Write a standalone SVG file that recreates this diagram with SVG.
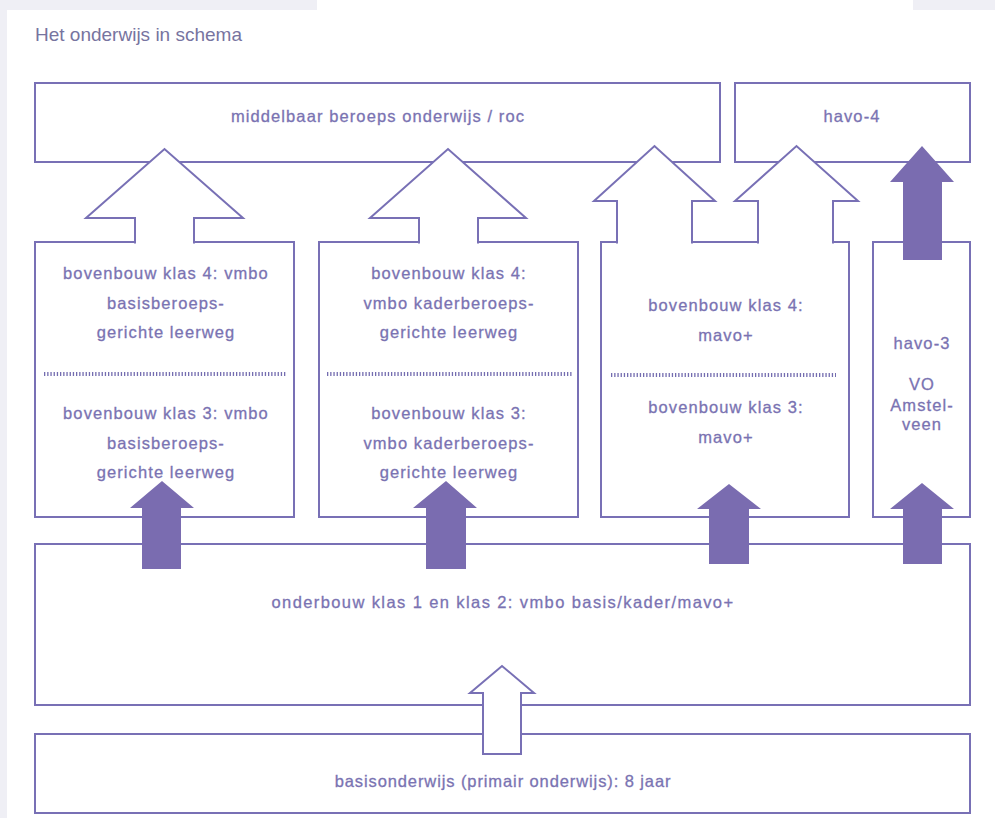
<svg xmlns="http://www.w3.org/2000/svg" width="995" height="818" viewBox="0 0 995 818">
<style>
.bg{fill:#efeff5}
.box{fill:#ffffff;stroke:#7870b5;stroke-width:2}
.oarrow{fill:#ffffff;stroke:#7870b5;stroke-width:2;stroke-linejoin:miter}
.farrow{fill:#7a6cb0;stroke:none}
.t{font-family:"Liberation Sans",Arial,sans-serif;font-size:16.5px;fill:#7a73b2;stroke:#7a73b2;stroke-width:0.3px;text-anchor:middle;letter-spacing:1.1px}
.title{font-family:"Liberation Sans",Arial,sans-serif;font-size:19px;fill:#77749f}
.dots{stroke:#746db0;stroke-width:4;stroke-dasharray:1.3 1.9}
</style>
<rect x="0" y="0" width="995" height="818" fill="#ffffff"/>
<rect class="bg" x="0" y="0" width="7" height="818"/>
<rect class="bg" x="0" y="0" width="317" height="10"/>
<rect class="bg" x="913" y="0" width="82" height="10"/>
<text class="title" x="35" y="41">Het onderwijs in schema</text>

<g id="mbo">
<rect class="box" x="35" y="83" width="685" height="79"/>
<text class="t" x="378" y="122">middelbaar beroeps onderwijs / roc</text>
</g>
<g id="havo4">
<rect class="box" x="735" y="83" width="235" height="79"/>
<text class="t" x="852" y="122">havo-4</text>
</g>
<g id="vmbo-basis">
<rect class="box" x="35" y="242" width="259" height="275"/>
<text class="t" x="166" y="279">bovenbouw klas 4: vmbo</text>
<text class="t" x="166" y="309">basisberoeps-</text>
<text class="t" x="166" y="338">gerichte leerweg</text>
<line class="dots" x1="44" y1="374" x2="287" y2="374"/>
<text class="t" x="166" y="419">bovenbouw klas 3: vmbo</text>
<text class="t" x="166" y="449">basisberoeps-</text>
<text class="t" x="166" y="478">gerichte leerweg</text>
</g>
<g id="vmbo-kader">
<rect class="box" x="319" y="242" width="259" height="275"/>
<text class="t" x="449" y="279">bovenbouw klas 4:</text>
<text class="t" x="449" y="309">vmbo kaderberoeps-</text>
<text class="t" x="449" y="338">gerichte leerweg</text>
<line class="dots" x1="327" y1="374" x2="572" y2="374"/>
<text class="t" x="449" y="419">bovenbouw klas 3:</text>
<text class="t" x="449" y="449">vmbo kaderberoeps-</text>
<text class="t" x="449" y="478">gerichte leerweg</text>
</g>
<g id="mavo">
<rect class="box" x="601" y="242" width="248" height="275"/>
<text class="t" x="726" y="311">bovenbouw klas 4:</text>
<text class="t" x="726" y="341">mavo+</text>
<line class="dots" x1="611" y1="375" x2="836" y2="375"/>
<text class="t" x="726" y="413">bovenbouw klas 3:</text>
<text class="t" x="726" y="443">mavo+</text>
</g>
<g id="havo3">
<rect class="box" x="873" y="242" width="97" height="275"/>
<text class="t" x="922" y="349">havo-3</text>
<text class="t" x="922" y="390">VO</text>
<text class="t" x="922" y="411">Amstel-</text>
<text class="t" x="922" y="430">veen</text>
</g>
<g id="onderbouw">
<rect class="box" x="35" y="544" width="935" height="161"/>
<text class="t" x="503" y="608" style="letter-spacing:1.4px">onderbouw klas 1 en klas 2: vmbo basis/kader/mavo+</text>
</g>
<g id="basisonderwijs">
<rect class="box" x="35" y="734" width="935" height="79"/>
<text class="t" x="503" y="787" style="letter-spacing:0.9px">basisonderwijs (primair onderwijs): 8 jaar</text>
</g>

<g id="connectors">
<path class="oarrow" d="M135,243.5 V218 H86 L164.5,149 L243,218 H194 V243.5"/>
<path class="oarrow" d="M419,243.5 V218 H370 L448,149 L526,218 H478 V243.5"/>
<path class="oarrow" d="M617,243.5 V201 H594 L654.5,146 L715,201 H692 V243.5"/>
<path class="oarrow" d="M758,243.5 V201 H735 L796.5,146 L858,201 H833 V243.5"/>
<polygon class="farrow" points="903,260 903,182 890,182 922,146 954,182 942,182 942,260"/>
<polygon class="farrow" points="142,569 142,508 130,508 162,481 194,508 181,508 181,569"/>
<polygon class="farrow" points="426,569 426,508 413,508 446,481 477,508 466,508 466,569"/>
<polygon class="farrow" points="709,564 709,509 697,509 729,484 761,509 749,509 749,564"/>
<polygon class="farrow" points="903,564 903,509 890,509 922,483 954,509 942,509 942,564"/>
<polygon class="oarrow" points="483,754 483,693 470,693 502,666 534,693 521,693 521,754"/>
</g>
</svg>
